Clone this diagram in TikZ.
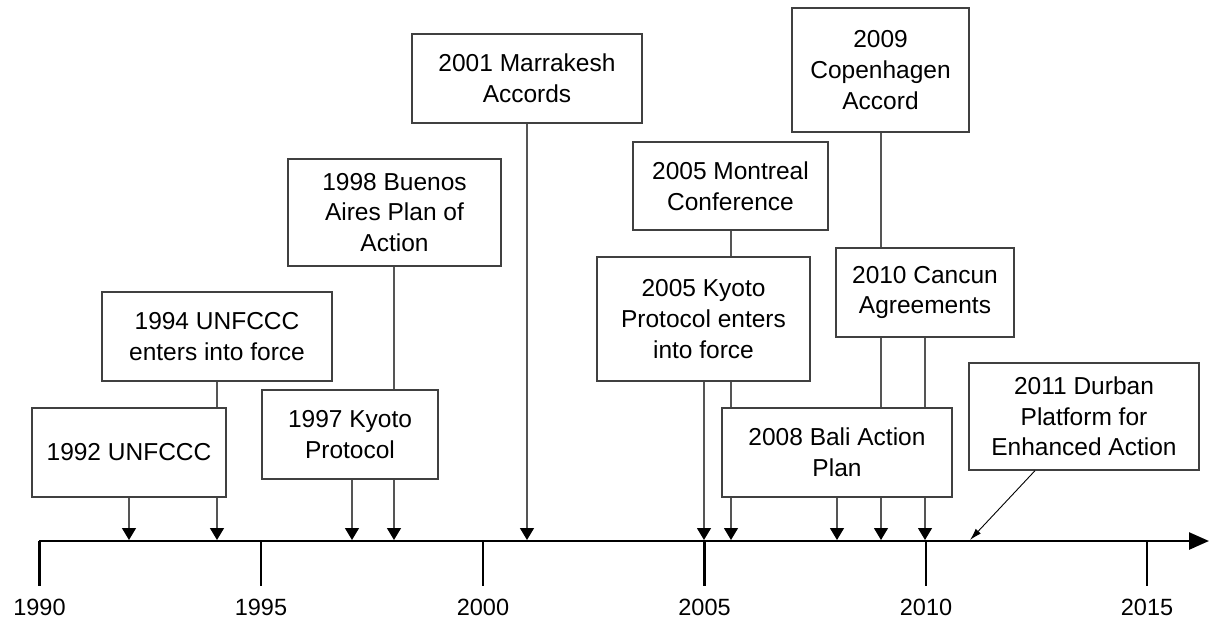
\documentclass[tikz,border=0pt]{standalone}
\usepackage{fontspec}
\setmainfont{Liberation Sans}
\usetikzlibrary{arrows.meta}
\definecolor{boxline}{HTML}{404040}
\definecolor{connline}{HTML}{555555}
\tikzset{
  evbox/.style={draw=boxline, line width=1.3pt, fill=white, rectangle, inner sep=0pt, align=center,
    font=\fontsize{24.5}{30.7}\selectfont},
  conn/.style={draw=connline, line width=1.2pt},
  evarrow/.style={conn, -{Triangle[length=12pt,width=14pt,fill=black,color=black]}},
  axisline/.style={line width=2.5pt, black},
  yearlbl/.style={anchor=base, inner sep=0pt, font=\fontsize{23.5}{28}\selectfont},
}
\begin{document}
\begin{tikzpicture}[x=1pt,y=-1pt]
\useasboundingbox (0,0) rectangle (1218,619);
% axis
\coordinate (axstart) at (39,541);
\coordinate (axend) at (1209,541);
\draw[axisline, -{Triangle[length=20pt,width=17pt]}] (axstart) -- (axend);
% ticks and year labels
\foreach \yr/\xx in {1990/39.5,1995/261,2000/483,2005/704.5,2010/926,2015/1147} {
  \coordinate (tk\yr) at (\xx,541);
  \coordinate (tkb\yr) at (\xx,586);
  \draw[axisline] (tk\yr) -- (tkb\yr);
  \node[yearlbl] (yl\yr) at (\xx,615) {\yr};
}
% event points on axis
\coordinate (e92) at (129,540);
\coordinate (e94) at (217,540);
\coordinate (e97) at (352,540);
\coordinate (e98) at (394,540);
\coordinate (e01) at (527,540);
\coordinate (e05k) at (704,540);
\coordinate (e05m) at (731,540);
\coordinate (e08) at (837,540);
\coordinate (e09) at (881,540);
\coordinate (e10) at (925,540);
\coordinate (e11) at (970,540);
% boxes
\node[evbox, minimum width=194pt, minimum height=89pt] (b92) at (129,452.5) {1992 UNFCCC};
\node[evbox, minimum width=230pt, minimum height=89pt] (b94) at (217,336.5) {1994 UNFCCC\\enters into force};
\node[evbox, minimum width=176pt, minimum height=89pt] (b97) at (350,434.5) {1997 Kyoto\\Protocol};
\node[evbox, minimum width=213pt, minimum height=107pt] (bBA) at (394.5,212.5) {1998 Buenos\\Aires Plan of\\Action};
\node[evbox, minimum width=230pt, minimum height=89pt] (bMA) at (527,78.5) {2001 Marrakesh\\Accords};
\node[evbox, minimum width=195pt, minimum height=88pt] (bMo) at (730.5,186) {2005 Montreal\\Conference};
\node[evbox, minimum width=213pt, minimum height=124pt] (bK5) at (703.5,319) {2005 Kyoto\\Protocol enters\\into force};
\node[evbox, minimum width=177pt, minimum height=124pt] (bCo) at (880.5,70) {2009\\Copenhagen\\Accord};
\node[evbox, minimum width=178pt, minimum height=89pt] (bCa) at (925,292.5) {2010 Cancun\\Agreements};
\node[evbox, minimum width=230pt, minimum height=89pt] (bBali) at (837,452.5) {2008 Bali Action\\Plan};
\node[evbox, minimum width=230pt, minimum height=107pt] (bDu) at (1084,416.5) {2011 Durban\\Platform for\\Enhanced Action};
% connectors
\draw[evarrow] (b92.south -| e92) -- (e92);
\draw[conn] (b94.south -| e94) -- (b92.north -| e94);
\draw[evarrow] (b92.south -| e94) -- (e94);
\draw[evarrow] (b97.south -| e97) -- (e97);
\draw[conn] (bBA.south -| e98) -- (b97.north -| e98);
\draw[evarrow] (b97.south -| e98) -- (e98);
\draw[evarrow] (bMA.south -| e01) -- (e01);
\draw[evarrow] (bK5.south -| e05k) -- (e05k);
\draw[conn] (bMo.south -| e05m) -- (bK5.north -| e05m);
\draw[conn] (bK5.south -| e05m) -- (bBali.north -| e05m);
\draw[evarrow] (bBali.south -| e05m) -- (e05m);
\draw[evarrow] (bBali.south -| e08) -- (e08);
\draw[conn] (bCo.south -| e09) -- (bCa.north -| e09);
\draw[conn] (bCa.south -| e09) -- (bBali.north -| e09);
\draw[evarrow] (bBali.south -| e09) -- (e09);
\draw[conn] (bCa.south -| e10) -- (bBali.north -| e10);
\draw[evarrow] (bBali.south -| e10) -- (e10);
\coordinate (du) at (1035,470);
\draw[line width=0.9pt, black, -{Latex[length=12pt,width=7pt]}] (bDu.south -| du) -- (e11);
\end{tikzpicture}
\end{document}
